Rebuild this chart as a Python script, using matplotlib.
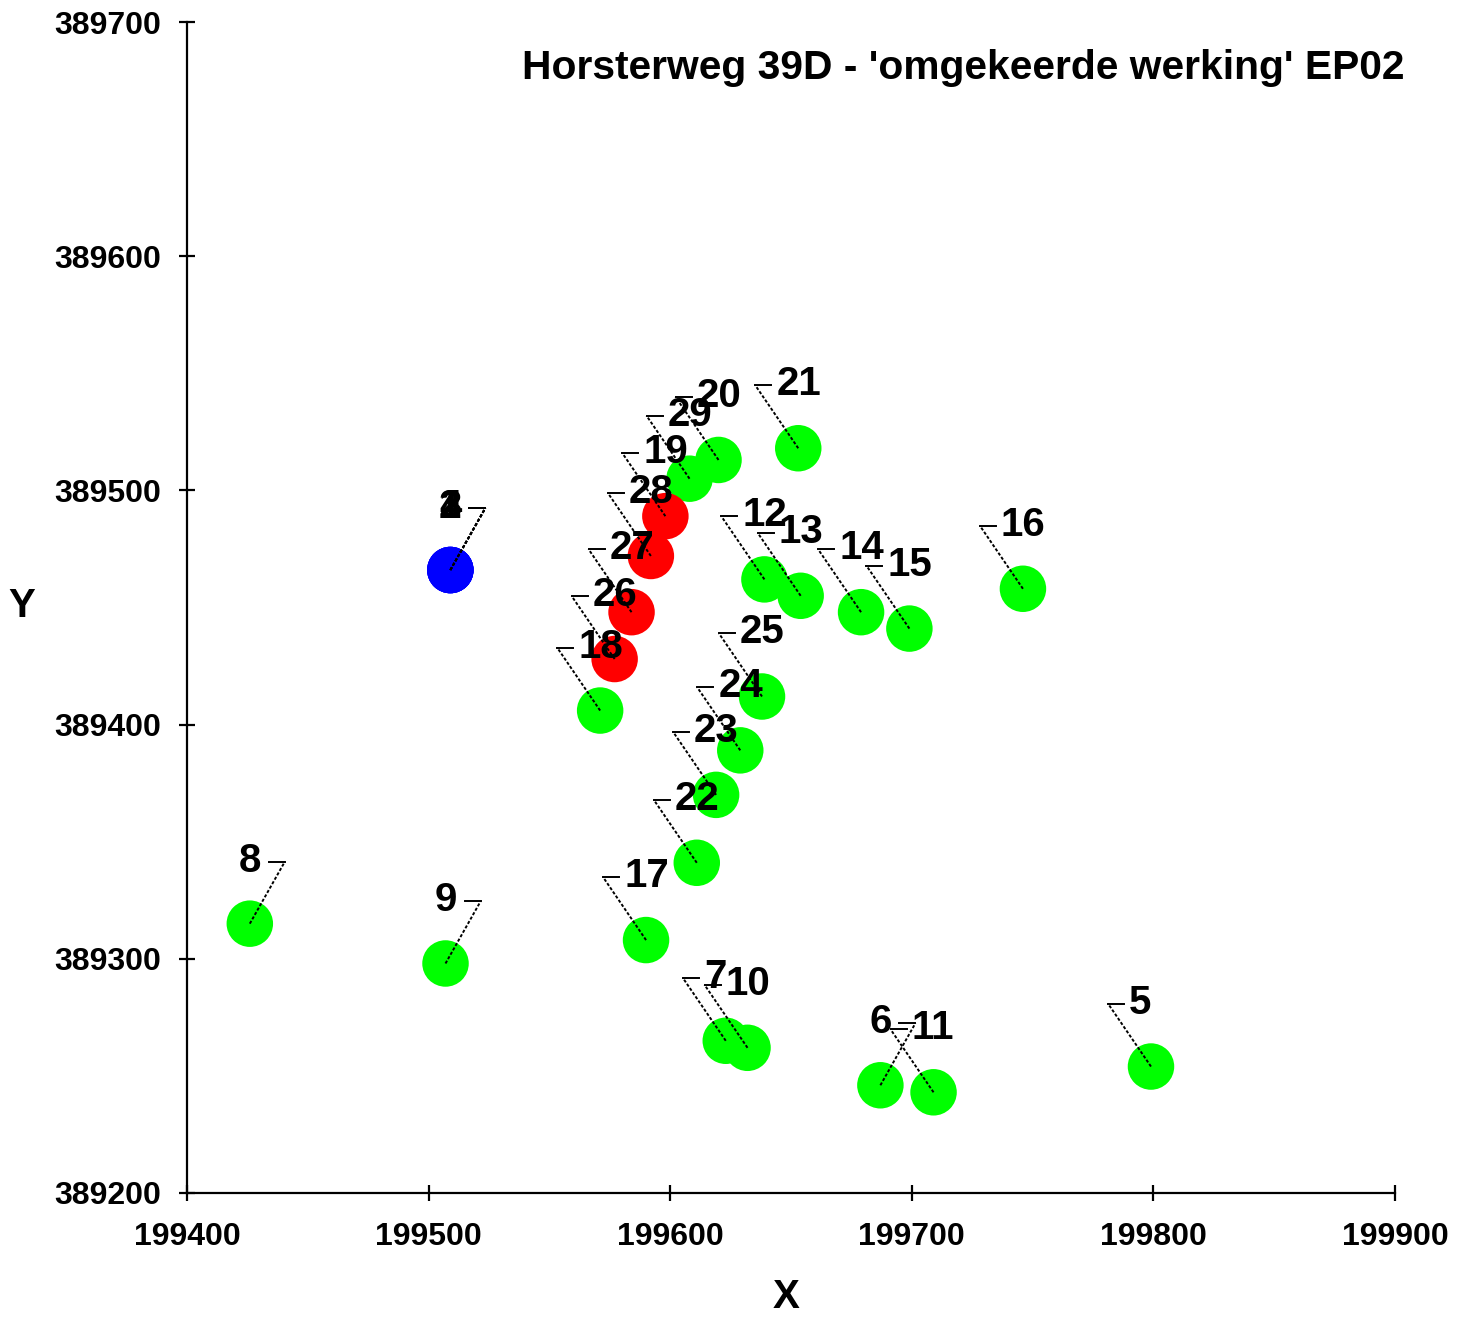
import matplotlib
matplotlib.use("Agg")
import matplotlib.pyplot as plt

plt.rcParams["font.family"] = ["Liberation Sans", "DejaVu Sans"]
plt.rcParams["font.weight"] = "bold"

TITLE = "Horsterweg 39D - 'omgekeerde werking' EP02"

labels = ["1", "2", "4", "3", "5", "6", "7", "8", "9", "10", "11", "12", "13", "14", "15",
          "16", "17", "18", "19", "20", "21", "22", "23", "24", "25", "26", "27", "28", "29"]
xs = [199509, 199509, 199509, 199509, 199799, 199687, 199623, 199426, 199507, 199632, 199709,
      199639, 199654, 199679, 199699, 199746, 199590, 199571, 199598, 199620, 199653,
      199611, 199619, 199629, 199638, 199577, 199584, 199592, 199608]
ys = [389466, 389466, 389466, 389466, 389254, 389246, 389265, 389315, 389298, 389262, 389243,
      389462, 389455, 389448, 389441, 389458, 389308, 389406, 389489, 389513, 389518,
      389341, 389370, 389389, 389412, 389428, 389448, 389472, 389505]

red_ids = ["19", "26", "27", "28"]
blue_ids = ["1", "2", "3", "4"]
right_side = ["1", "2", "3", "4", "6", "8", "9"]

W, H = 1469, 1319
fig = plt.figure(figsize=(W / 100, H / 100), dpi=100)
ax = fig.add_axes([187 / W, 1 - 1193 / H, (1395 - 187) / W, (1193 - 22) / H])

ax.set_xlim(199400, 199900)
ax.set_ylim(389200, 389700)
ax.set_xticks(range(199400, 199901, 100))
ax.set_yticks(range(389200, 389701, 100))
for s in ["top", "right"]:
    ax.spines[s].set_visible(False)
for s in ["left", "bottom"]:
    ax.spines[s].set_linewidth(1.6)
ax.tick_params(direction="inout", length=11.5, width=1.6, labelsize=23)
ax.tick_params(axis="x", pad=15)
ax.tick_params(axis="y", pad=13)

def colour(lbl):
    if lbl in blue_ids:
        return "#0000FF"
    if lbl in red_ids:
        return "#FF0000"
    return "#00FF00"

green = [i for i, l in enumerate(labels) if colour(l) == "#00FF00"]
red = [i for i, l in enumerate(labels) if colour(l) == "#FF0000"]
blue = [i for i, l in enumerate(labels) if colour(l) == "#0000FF"]
for idx, c in [(green, "#00FF00"), (red, "#FF0000"), (blue, "#0000FF")]:
    ax.scatter([xs[i] for i in idx], [ys[i] for i in idx], s=1120, c=c,
               edgecolors="none", zorder=2)

# leader lines: dotted diagonal to a corner, short solid horizontal, then text
inv = ax.transData.inverted()
for lbl, x, y in zip(labels, xs, ys):
    px, py = ax.transData.transform((x, y))
    if lbl in right_side:
        dx, dy, seg, tx, ha = 35, 62, -16, -24, "right"
    else:
        dx, dy, seg, tx, ha = -43, 63, 16, 21, "left"
    cx, cy = px + dx, py + dy
    p0 = inv.transform((px, py))
    p1 = inv.transform((cx, cy))
    p2 = inv.transform((cx + seg, cy))
    ax.plot([p0[0], p1[0]], [p0[1], p1[1]], color="black", lw=1.4,
            ls=(0, (1.6, 1.0)), zorder=3)
    ax.plot([p1[0], p2[0]], [p1[1], p2[1]], color="black", lw=1.4, zorder=3)
    ax.annotate(lbl, xy=(x, y), xytext=(dx + tx, dy + 1), textcoords="offset pixels",
                ha=ha, va="center", fontsize=29, fontweight="bold", zorder=4)

fig.text(1405 / W, 1 - 68 / H, TITLE, ha="right", va="center", fontsize=29.3, fontweight="bold")
fig.text(786 / W, 1 - 1297 / H, "X", ha="center", va="center", fontsize=29, fontweight="bold")
fig.text(22 / W, 1 - 606 / H, "Y", ha="center", va="center", fontsize=29, fontweight="bold")

fig.savefig("out.png", dpi=100)
